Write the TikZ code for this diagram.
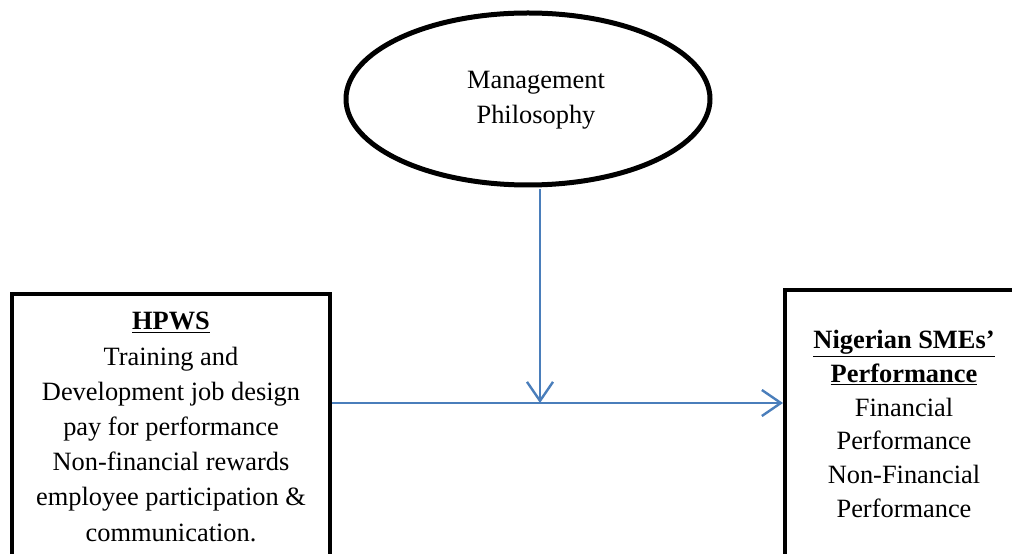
\documentclass[tikz,border=0pt]{standalone}
\usepackage{fontspec}
\setmainfont{Liberation Serif}
\usetikzlibrary{arrows.meta,shapes.geometric}
\definecolor{wordblue}{RGB}{74,126,187}
\tikzset{
  frame/.style={draw=black, line width=4pt, rectangle, inner sep=0pt},
  txt/.style={align=center, font=\fontsize{26.4}{35.2}\selectfont, inner sep=0pt},
  link/.style={draw=wordblue, line width=2.2pt, -{Straight Barb[length=19pt,width=26pt,line width=2.4pt]}},
}
\begin{document}
\begin{tikzpicture}[x=1pt,y=1pt]
\useasboundingbox (0,0) rectangle (1012,554);
\clip (0,0) rectangle (1012,554);
% ellipse
\node[ellipse, draw=black, line width=5pt, minimum width=364pt, minimum height=172pt, inner sep=0pt] (mp) at (528,455) {};
\node[txt] (mptext) at (536,454) {Management\\Philosophy};
% boxes
\node[frame, anchor=north, minimum width=318pt, minimum height=330pt] (hpws) at (171,262) {};
\node[txt] (hpwstext) at (171,127) {\underline{\textbf{HPWS}}\\Training and\\Development job design\\pay for performance\\Non-financial rewards\\employee participation \&\\communication.};
\node[frame, anchor=north west, minimum width=300pt, minimum height=330pt] (sme) at (783,266) {};
\node[txt, font=\fontsize{26.4}{33.7}\selectfont] (smetext) at (904,130) {\underline{\textbf{Nigerian SMEs’}}\\\underline{\textbf{Performance}}\\Financial\\Performance\\Non-Financial\\Performance};
% connectors
\coordinate (mid) at (540,151);
\draw[link] (hpws.east |- mid) -- (sme.west |- mid);
\draw[link] (mp.south -| mid) ++(0,-2) -- (mid);
\end{tikzpicture}
\end{document}
